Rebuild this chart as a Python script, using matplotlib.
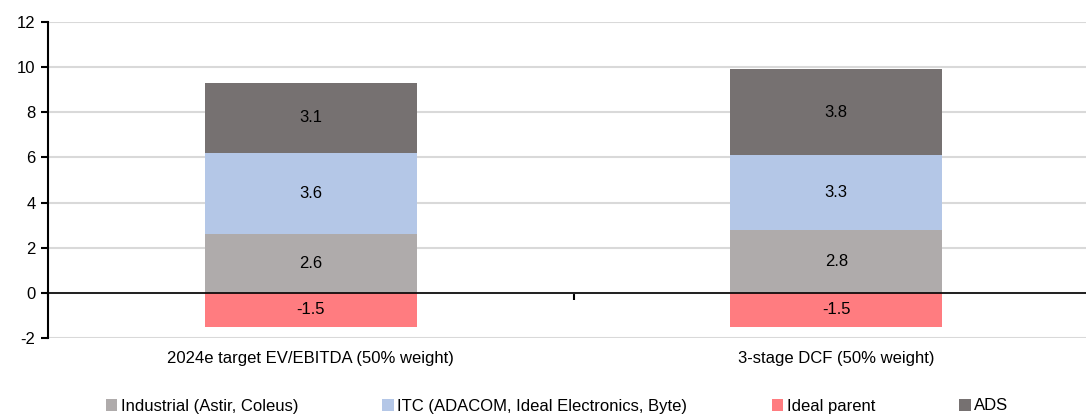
import matplotlib
matplotlib.use("Agg")
import matplotlib.pyplot as plt
from matplotlib.transforms import blended_transform_factory
import numpy as np

plt.rcParams['font.family'] = ['Liberation Sans', 'DejaVu Sans']

categories = ["2024e target EV/EBITDA (50% weight)", "3-stage DCF (50% weight)"]
series_names = ["Industrial (Astir, Coleus)", "ITC (ADACOM, Ideal Electronics, Byte)", "Ideal parent", "ADS"]
industrial = [2.6, 2.8]
itc = [3.6, 3.3]
ideal_parent = [-1.5, -1.5]
ads = [3.1, 3.8]
colors = ["#AFABAB", "#B4C7E7", "#FF7C80", "#767171"]
yticks = [-2, 0, 2, 4, 6, 8, 10, 12]

FS = 12

fig = plt.figure(figsize=(10.86, 4.16), dpi=100)
ax = fig.add_axes([48/1086, 78/416, 1051/1086, 316/416])

x = np.arange(len(categories))
w = 0.404
ind = np.array(industrial); itcv = np.array(itc); adsv = np.array(ads); neg = np.array(ideal_parent)

bars = []
bars.append(ax.bar(x, ind, w, color=colors[0], label=series_names[0], zorder=3))
bars.append(ax.bar(x, itcv, w, bottom=ind, color=colors[1], label=series_names[1], zorder=3))
bars.append(ax.bar(x, neg, w, color=colors[2], label=series_names[2], zorder=3))
bars.append(ax.bar(x, adsv, w, bottom=ind + itcv, color=colors[3], label=series_names[3], zorder=3))

for b in bars:
    ax.bar_label(b, labels=[f"{v:.1f}" for v in b.datavalues], label_type='center', fontsize=FS, color='black', zorder=4)

ax.set_xlim(-0.5, len(categories) - 0.5)
ax.set_ylim(-2, 12)
ax.set_yticks(yticks)
ax.set_yticklabels([str(t) for t in yticks], fontsize=FS)
ax.yaxis.grid(True, color='#D9D9D9', linewidth=1.5, zorder=0)
ax.set_axisbelow(True)

for s in ['top', 'right']:
    ax.spines[s].set_visible(False)
ax.spines['left'].set_linewidth(1.5)
ax.spines['bottom'].set_position(('data', 0))
ax.spines['bottom'].set_linewidth(1.2)
ax.spines['bottom'].set_zorder(5)
ax.tick_params(axis='y', direction='out', length=5, width=1.5, pad=4)

ax.set_xticks([])
ax.set_xticks(np.arange(len(categories) + 1) - 0.5, minor=True)
ax.tick_params(axis='x', which='minor', direction='out', length=5, width=1.5, labelbottom=False)

trans = blended_transform_factory(ax.transData, ax.transAxes)
for xi, cat in zip(x, categories):
    ax.text(xi, -0.04, cat, transform=trans, ha='center', va='top', fontsize=FS)

handles = [b.patches[0] for b in bars]
fig.legend(handles, series_names, loc='center', bbox_to_anchor=(557/1086, 10/416), ncol=4,
           frameon=False, fontsize=FS, handlelength=0.7, handleheight=0.7, handletextpad=0.2,
           columnspacing=5.05)

fig.savefig("out.png", dpi=100)
